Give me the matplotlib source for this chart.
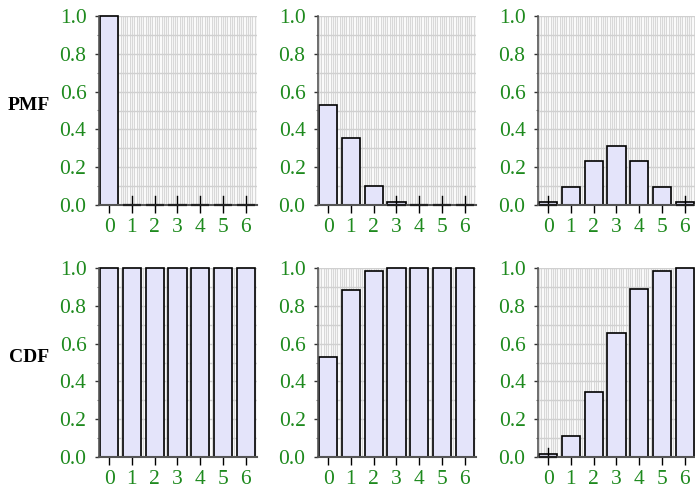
import matplotlib
matplotlib.use("Agg")
import matplotlib.pyplot as plt
import numpy as np

k_values = [0, 1, 2, 3, 4, 5, 6]
x_tick_labels = ["0", "1", "2", "3", "4", "5", "6"]
y_ticks = [0.0, 0.2, 0.4, 0.6, 0.8, 1.0]
y_tick_labels = ["0.0", "0.2", "0.4", "0.6", "0.8", "1.0"]
row_labels = ["PMF", "CDF"]

pmf_a = [1.0, 0.0, 0.0, 0.0, 0.0, 0.0, 0.0]
pmf_b = [0.531, 0.354, 0.098, 0.015, 0.001, 0.0001, 0.0]
pmf_c = [0.016, 0.094, 0.234, 0.313, 0.234, 0.094, 0.016]
cdf_a = [1.0, 1.0, 1.0, 1.0, 1.0, 1.0, 1.0]
cdf_b = [0.531, 0.886, 0.984, 0.999, 1.0, 1.0, 1.0]
cdf_c = [0.016, 0.109, 0.344, 0.656, 0.891, 0.984, 1.0]

rows = [[pmf_a, pmf_b, pmf_c], [cdf_a, cdf_b, cdf_c]]

W, H = 695, 493
fig = plt.figure(figsize=(W / 100, H / 100), dpi=100)
plt.rcParams['font.family'] = ['Liberation Serif', 'DejaVu Serif']

green = '#1e8a1e'
fill = '#e4e4fa'
lefts = [99, 318, 538]
tops = [16, 268]
aw, ah = 158, 189

for r, row in enumerate(rows):
    for c, vals in enumerate(row):
        ax = fig.add_axes([lefts[c] / W, (H - tops[r] - ah) / H, aw / W, ah / H])
        ax.set_xlim(-0.45, 6.5)
        ax.set_ylim(0, 1.0)
        # grid
        for gx in np.arange(-0.4, 6.55, 0.1):
            ax.axvline(gx, color='#d8d8d8', lw=0.9, zorder=0)
        for gy in np.arange(0.1, 1.01, 0.1):
            ax.axhline(gy, color='#d0d0d0', lw=1.0, zorder=0.5)
        ax.bar(k_values, vals, width=0.8, color=fill, edgecolor='black',
               linewidth=1.2, zorder=2, clip_on=False)
        for k, v in zip(k_values, vals):
            if v < 0.03:
                ax.plot([k, k], [0, 0.045], color='black', lw=1.0, zorder=5,
                        clip_on=False)
                ax.plot([k - 0.4, k + 0.4], [0, 0], color='#222222', lw=1.6,
                        zorder=5, clip_on=False, solid_capstyle='butt')
        for s in ['top', 'right']:
            ax.spines[s].set_visible(False)
        ax.spines['left'].set_color('#555555')
        ax.spines['bottom'].set_color('#555555')
        ax.spines['left'].set_linewidth(1.2)
        ax.spines['bottom'].set_linewidth(1.5)
        ax.spines['bottom'].set_zorder(4)
        ax.set_xticks(k_values)
        ax.set_xticklabels(x_tick_labels)
        ax.set_yticks(y_ticks)
        ax.set_yticklabels(y_tick_labels)
        ax.set_yticks(np.arange(0.1, 1.0, 0.2), minor=True)
        ax.tick_params(axis='x', length=6, width=1.0, color='black', pad=3,
                       labelsize=15.5, labelcolor=green)
        ax.tick_params(axis='y', which='major', length=3, width=1.0, color='#333333',
                       pad=6, labelsize=15.5, labelcolor=green)
        ax.tick_params(axis='y', which='minor', length=1.5, width=0.8, color='#777777')
        ax.set_facecolor('white')
        if c == 0:
            fig.text(29 / W, 1 - (tops[r] + 89) / H, row_labels[r], fontsize=14,
                     fontweight='bold', ha='center', va='center')

fig.savefig('out.png', dpi=100)
